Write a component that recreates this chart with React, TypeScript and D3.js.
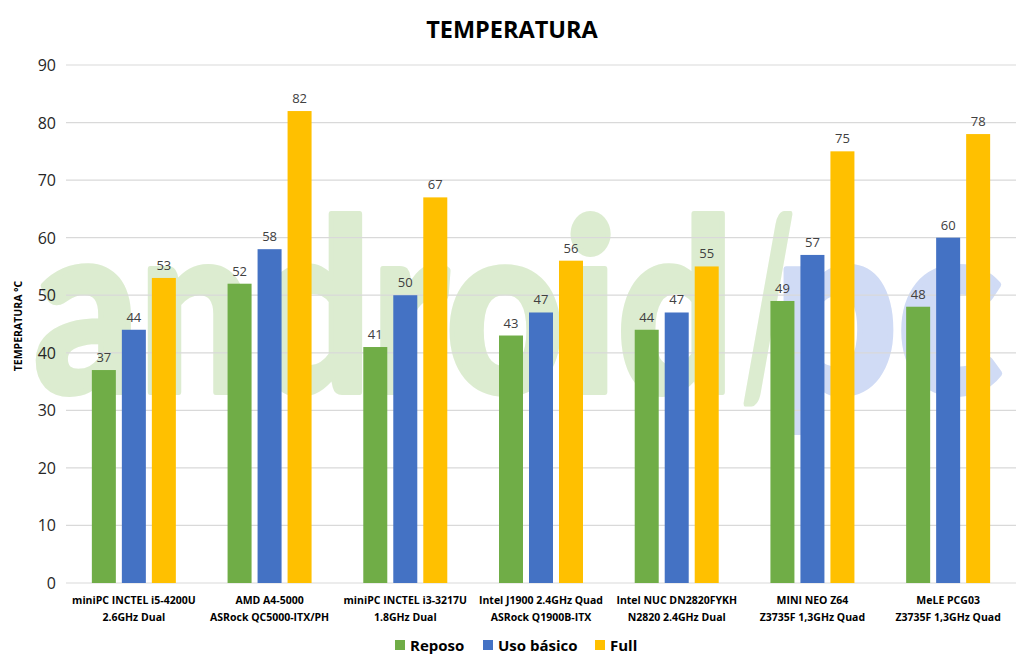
import React from "react";
import * as d3 from "d3";

const categories = [
  ["miniPC INCTEL i5-4200U", "2.6GHz Dual"],
  ["AMD A4-5000", "ASRock QC5000-ITX/PH"],
  ["miniPC INCTEL i3-3217U", "1.8GHz Dual"],
  ["Intel J1900 2.4GHz Quad", "ASRock Q1900B-ITX"],
  ["Intel NUC DN2820FYKH", "N2820 2.4GHz Dual"],
  ["MINI NEO Z64", "Z3735F 1,3GHz Quad"],
  ["MeLE PCG03", "Z3735F 1,3GHz Quad"],
];
const seriesNames = ["Reposo", "Uso básico", "Full"];
const reposo = [37, 52, 41, 43, 44, 49, 48];
const usoBasico = [44, 58, 50, 47, 47, 57, 60];
const full = [53, 82, 67, 56, 55, 75, 78];
const yTicks = [0, 10, 20, 30, 40, 50, 60, 70, 80, 90];
const colors = ["#70ad47", "#4472c4", "#ffc000"];

const W = 1024, H = 666;
const left = 66, right = 1016, top = 65, bottom = 583;
const font = "'Open Sans', 'Noto Sans', sans-serif";
const wmGreen = "#dcecd0";
const wmBlue = "#d0dbf5";

export default function App() {
  const series = [reposo, usoBasico, full];
  const x = d3.scaleBand<number>().domain(d3.range(categories.length)).range([left, right]).padding(0);
  const xi = d3.scaleBand<number>().domain([0, 1, 2]).range([0, 84]).paddingInner(0.2).paddingOuter(0);
  const y = d3.scaleLinear().domain([0, 90]).range([bottom, top]);
  const groupOffset = (x.bandwidth() - 84) / 2;

  const legendX = [395, 483, 595];

  return (
    <svg width={W} height={H} style={{ position: "absolute", left: 0, top: 0, background: "#fff" }}>
      <rect width={W} height={H} fill="#fff" />
      {/* watermark */}
      <g fontFamily="Lato, 'Open Sans', sans-serif" fontWeight={900} fontSize={238} strokeWidth={6} strokeLinejoin="round">
        <text x={34} y={392} fill={wmGreen} stroke={wmGreen} textLength={700} lengthAdjust="spacingAndGlyphs">android</text>
        <text x={742} y={392} fill={wmGreen} stroke={wmGreen} textLength={52} lengthAdjust="spacingAndGlyphs">/</text>
        <text x={774} y={392} fill={wmBlue} stroke={wmBlue} textLength={228} lengthAdjust="spacingAndGlyphs">pc</text>
      </g>
      {/* title */}
      <text x={512} y={38} textAnchor="middle" fontFamily={font} fontWeight="bold" fontSize={23.5} fill="#000">TEMPERATURA</text>
      {/* gridlines */}
      {yTicks.map((t) => (
        <g key={t}>
          <line x1={left} x2={right} y1={y(t)} y2={y(t)} stroke="#d9d9d9" strokeWidth={1.2} />
          <text x={56} y={y(t) + 6} textAnchor="end" fontFamily={font} fontSize={16} fill="#262626">{t}</text>
        </g>
      ))}
      {/* y axis title */}
      <text transform={`translate(22,${(top + bottom) / 2 + 2}) rotate(-90)`} textAnchor="middle" fontFamily={font} fontWeight="bold" fontSize={10.5} fill="#000">TEMPERATURA °C</text>
      {/* bars */}
      {series.map((vals, si) => (
        <g key={si}>
          {vals.map((v, ci) => {
            const bx = (x(ci) as number) + groupOffset + (xi(si) as number);
            return (
              <g key={ci}>
                <rect x={bx} y={y(v)} width={xi.bandwidth()} height={y(0) - y(v)} fill={colors[si]} />
                <text x={bx + xi.bandwidth() / 2} y={y(v) - 8} textAnchor="middle" fontFamily={font} fontSize={13} fill="#404040">{v}</text>
              </g>
            );
          })}
        </g>
      ))}
      {/* category labels */}
      {categories.map((lines, ci) => (
        <text key={ci} textAnchor="middle" fontFamily={font} fontWeight="bold" fontSize={10.5} fill="#000">
          {lines.map((l, li) => (
            <tspan key={li} x={(x(ci) as number) + x.bandwidth() / 2} y={604 + li * 17}>{l}</tspan>
          ))}
        </text>
      ))}
      {/* legend */}
      {seriesNames.map((n, i) => (
        <g key={n}>
          <rect x={legendX[i]} y={640} width={10} height={10} fill={colors[i]} />
          <text x={legendX[i] + 15} y={651} fontFamily={font} fontWeight="bold" fontSize={15} fill="#000">{n}</text>
        </g>
      ))}
    </svg>
  );
}
